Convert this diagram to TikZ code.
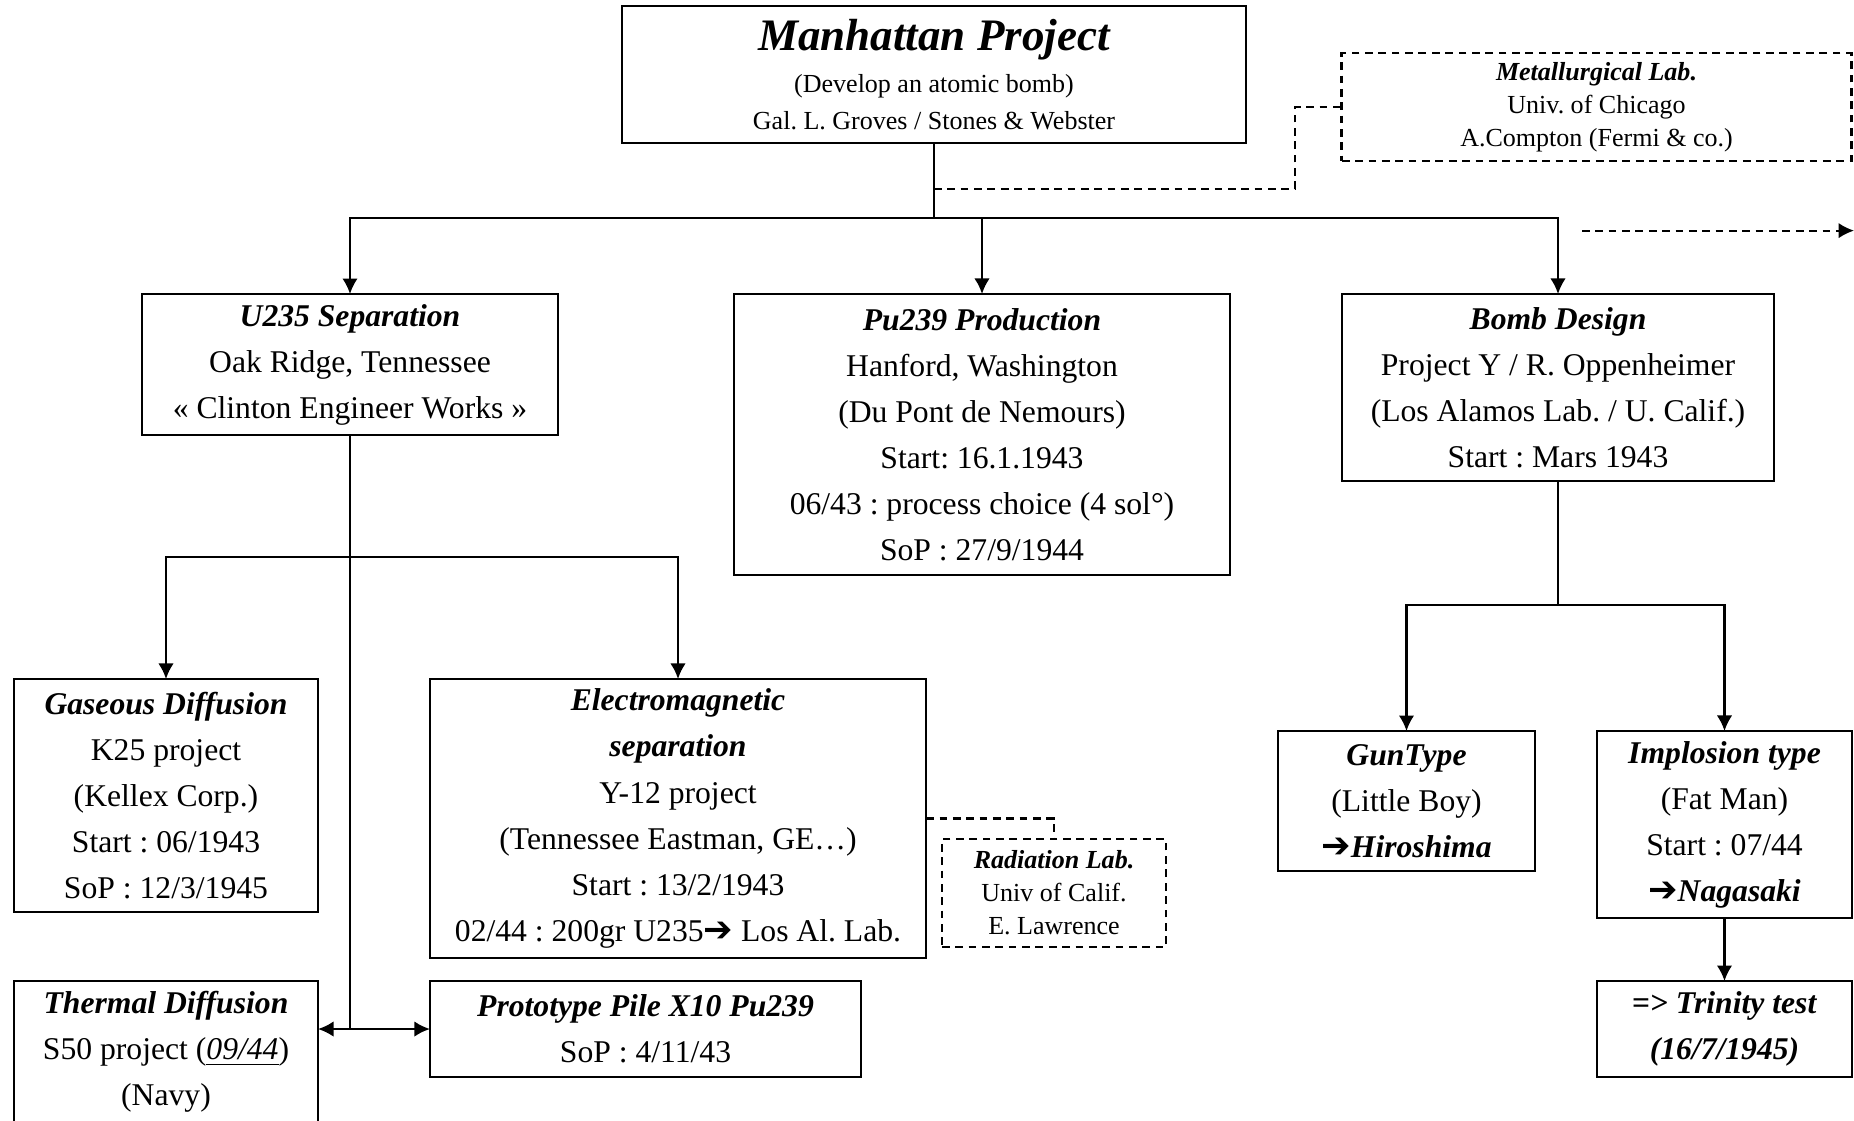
\documentclass[tikz,border=0pt]{standalone}
\usepackage{fontspec}
\usetikzlibrary{arrows.meta}
\setmainfont{Liberation Serif}
\newfontfamily\arrowfont{DejaVu Sans}
\newcommand{\bigarrow}{{\arrowfont\fontsize{10}{10}\selectfont ➔}}
\frenchspacing

\begin{document}
\begin{tikzpicture}[x=0.01cm, y=-0.01cm]
\tikzset{ >={Latex[length=4.4pt,width=4.4pt]}, inner sep=0pt, outer sep=0pt,
  box/.style={draw, line width=0.6pt, align=center, font=\fontsize{9}{13.1}\selectfont},
  dbox/.style={draw, line width=0.8pt, dash pattern=on 2.2pt off 1.6pt, align=center, font=\fontsize{7.4}{9.4}\selectfont},
  link/.style={line width=0.6pt},
  dlink/.style={line width=0.6pt, dash pattern=on 2.2pt off 1.6pt},
}

\useasboundingbox (0,0) rectangle (1854,1120);
\clip (0,0) rectangle (1854,1120);
%\draw [lightgray, dashed](0,0) grid[step=100] (1854,1120);

\node [box, minimum width=6.24cm, minimum height=1.37cm, font=\fontsize{7.4}{10.4}\selectfont] (man) at (934,74.5)
  {{\fontsize{12.8}{15}\selectfont\bfseries\itshape Manhattan Project}\\[1.5pt]
   (Develop an atomic bomb)\\ Gal. L. Groves / Stones \& Webster};
\node [dbox, minimum width=5.09cm, minimum height=1.08cm] (metal) at (1596.5,107)
  {\textbf{\textit{Metallurgical Lab.}}\\ Univ. of Chicago\\ A.Compton (Fermi \& co.)};

\node [box, minimum width=4.16cm, minimum height=1.41cm] (u235) at (350,364.5)
  {\textbf{\textit{U235 Separation}}\\ Oak Ridge, Tennessee\\ « Clinton Engineer Works »};
\node [box, minimum width=4.96cm, minimum height=2.81cm] (pu) at (982,434.5)
  {\textbf{\textit{Pu239 Production}}\\ Hanford, Washington\\ (Du Pont de Nemours)\\ Start: 16.1.1943\\ 06/43 : process choice (4 sol°)\\ SoP : 27/9/1944};
\node [box, minimum width=4.32cm, minimum height=1.87cm] (bomb) at (1558,387.5)
  {\textbf{\textit{Bomb Design}}\\ Project Y / R. Oppenheimer\\ (Los Alamos Lab. / U. Calif.)\\ Start : Mars 1943};

\node [box, minimum width=3.04cm, minimum height=2.33cm] (gas) at (166,795.5)
  {\textbf{\textit{Gaseous Diffusion}}\\ K25 project\\ (Kellex Corp.)\\ Start : 06/1943\\ SoP : 12/3/1945};
\node [box, minimum width=4.96cm, minimum height=2.79cm] (em) at (678,818.5)
  {\textbf{\textit{Electromagnetic}}\\ \textbf{\textit{separation}}\\ Y-12 project\\ (Tennessee Eastman, GE…)\\ Start : 13/2/1943\\ 02/44 : 200gr U235\bigarrow\ Los Al. Lab.};
\node [dbox, minimum width=2.24cm, minimum height=1.08cm] (rad) at (1054,893)
  {\textbf{\textit{Radiation Lab.}}\\ Univ of Calif.\\ E. Lawrence};
\node [box, minimum width=3.04cm, minimum height=1.41cm] (thermal) at (166,1051.5)
  {\textbf{\textit{Thermal Diffusion}}\\ S50 project (\underline{\textit{09/44}})\\ (Navy)};
\node [box, minimum width=4.31cm, minimum height=0.96cm] (proto) at (645.5,1029)
  {\textbf{\textit{Prototype Pile X10 Pu239}}\\ SoP : 4/11/43};

\node [box, minimum width=2.57cm, minimum height=1.40cm] (gun) at (1406.5,801)
  {\textbf{\textit{GunType}}\\ (Little Boy)\\ \bigarrow\textbf{\textit{Hiroshima}}};
\node [box, minimum width=2.55cm, minimum height=1.87cm] (implo) at (1724.5,824.5)
  {\textbf{\textit{Implosion type}}\\ (Fat Man)\\ Start : 07/44\\ \bigarrow\textbf{\textit{Nagasaki}}};
\node [box, minimum width=2.55cm, minimum height=0.96cm] (trinity) at (1724.5,1029)
  {\textbf{\textit{=> Trinity test}}\\ \textbf{\textit{(16/7/1945)}}};

\coordinate (bus) at (934,217.6);
\coordinate (mtap) at (934,189);
\coordinate (mbend) at (1295,107);
\coordinate (out1) at (1582,230.6);
\coordinate (out2) at (1854,230.6);
\coordinate (ujoin) at (350,557);
\coordinate (tjoin) at (350,1029);
\coordinate (bjoin) at (1558,605);

\draw [link] (man) -- (bus);
\draw [link, ->] (bus) -| (u235.north);
\draw [link, ->] (bus) -| (pu.north);
\draw [link, ->] (bus) -| (bomb.north);
\draw [dlink] (mtap) -| (mbend) -- (metal.west);
\draw [dlink, ->] (out1) -- (out2);

\draw [link] (u235.south) -- (tjoin);
\draw [link, ->] (ujoin) -| (gas.north);
\draw [link, ->] (ujoin) -| (em.north);
\draw [link, ->] (tjoin) -- (tjoin -| thermal.east);
\draw [link, ->] (tjoin) -- (proto.west);
\draw [dlink] (em.east) -| (rad.north);

\draw [link] (bomb.south) -- (bjoin);
\draw [link, ->] (bjoin) -| (gun.north);
\draw [link, ->] (bjoin) -| (implo.north);
\draw [link, ->] (implo.south) -- (trinity.north);

\end{tikzpicture}
\end{document}
